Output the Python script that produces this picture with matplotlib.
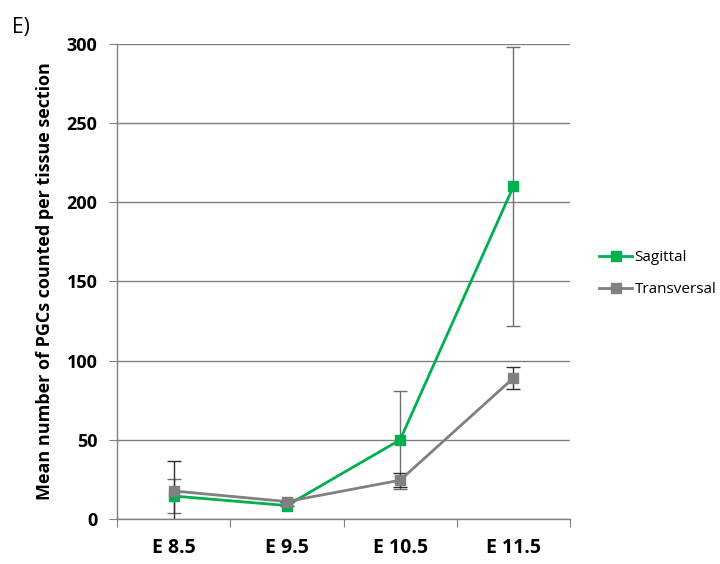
import matplotlib.pyplot as plt

stages = ["E 8.5", "E 9.5", "E 10.5", "E 11.5"]
sagittal = [14.5, 8.5, 50, 210]
sagittal_err = [11, 0, 31, 88]
transversal = [17.7, 11, 24.5, 89]
transversal_err = [19, 0, 4.5, 7]

GREEN = "#00B050"
GRAY = "#808080"
FONT = "Open Sans"

fig = plt.figure(figsize=(7.2, 5.64), dpi=100)
ax = fig.add_axes([0.1625, 0.0798, 0.6292, 0.8422])
x = list(range(len(stages)))

# error bars first so the lines sit on top
ax.errorbar(x, sagittal, yerr=sagittal_err, fmt="none", ecolor="#707070",
            elinewidth=1, capsize=5, capthick=1, zorder=2)
ax.errorbar(x, transversal, yerr=transversal_err, fmt="none", ecolor="#303030",
            elinewidth=1, capsize=5, capthick=1, zorder=2)

ax.plot(x, sagittal, color=GREEN, lw=2, marker="s", ms=7, label="Sagittal", zorder=3)
ax.plot(x, transversal, color=GRAY, lw=2, marker="s", ms=7, label="Transversal", zorder=4)

ax.set_xlim(-0.5, 3.5)
ax.set_ylim(0, 300)
ax.set_yticks(range(0, 301, 50))
ax.set_xticks([-0.5, 0.5, 1.5, 2.5, 3.5], minor=False)
ax.set_xticklabels([])
ax.set_xticks(x, minor=True)
ax.set_xticklabels(stages, minor=True, fontsize=14, fontweight="bold", family=FONT)
ax.tick_params(axis="x", which="minor", length=0, pad=14)
ax.tick_params(axis="x", which="major", length=6, color=GRAY, direction="out")
ax.tick_params(axis="y", length=6, color=GRAY, direction="out", pad=8)
for lab in ax.get_yticklabels():
    lab.set_fontsize(13)
    lab.set_fontweight("bold")
    lab.set_family(FONT)

ax.yaxis.grid(True, color=GRAY, lw=1)
ax.set_axisbelow(True)
for side in ("top", "right"):
    ax.spines[side].set_visible(False)
for side in ("left", "bottom"):
    ax.spines[side].set_color(GRAY)
    ax.spines[side].set_linewidth(1)

ax.set_ylabel("Mean number of PGCs counted per tissue section", fontsize=13,
              fontweight="bold", family=FONT, labelpad=9)

ax.legend(loc="center left", bbox_to_anchor=(1.05, 0.516), frameon=False,
          prop={"family": FONT, "size": 11}, handlelength=2.2, handletextpad=0.15,
          labelspacing=1.1, borderaxespad=0)

fig.text(0.016, 0.942, "E)", fontsize=15, family=FONT)

fig.savefig("out.png", dpi=100)
